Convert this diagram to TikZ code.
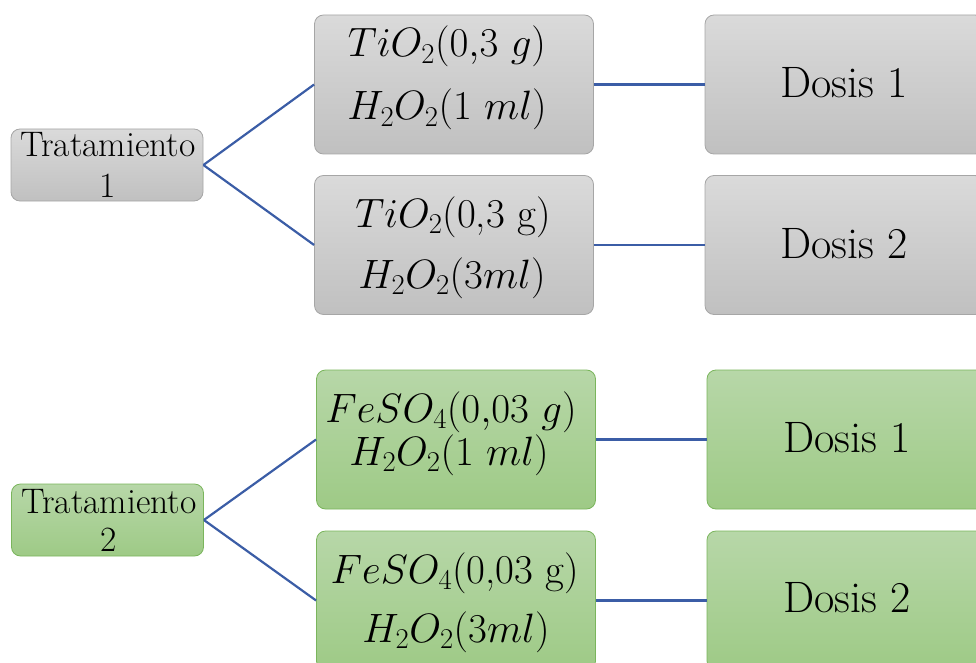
\RequirePackage{fix-cm}
\documentclass[tikz,border=0pt]{standalone}
\usepackage[no-math]{fontspec}
\setmainfont{Latin Modern Roman}
\definecolor{lnblue}{RGB}{59,93,166}
\definecolor{gtop}{RGB}{218,218,218}
\definecolor{gbot}{RGB}{192,192,192}
\definecolor{gbrd}{RGB}{166,166,166}
\definecolor{ntop}{RGB}{183,215,168}
\definecolor{nbot}{RGB}{158,202,134}
\definecolor{nbrd}{RGB}{122,181,92}
\tikzset{
  box/.style={rectangle, rounded corners=9pt, line width=0.8pt, inner sep=0pt},
  graybox/.style={box, draw=gbrd, top color=gtop, bottom color=gbot},
  greenbox/.style={box, draw=nbrd, top color=ntop, bottom color=nbot},
  trat/.style={minimum width=192pt, minimum height=72pt},
  mid/.style={minimum width=279pt, minimum height=139pt},
  dos/.style={minimum width=279pt, minimum height=139pt},
  lbl/.style={anchor=base, inner sep=0pt},
  trattxt/.style={lbl, font=\fontsize{35.5}{40}\selectfont},
  midtxt/.style={lbl, font=\fontsize{41}{46}\selectfont},
  dostxt/.style={lbl, font=\fontsize{44}{50}\selectfont},
  conn/.style={draw=lnblue, line width=2.2pt}
}
\begin{document}
\begin{tikzpicture}[x=1pt,y=-1pt]
\useasboundingbox (0,0) rectangle (976,663);
\clip (0,0) rectangle (976,663);
% Treatment 1
\node[graybox, trat] (t1) at (107,165) {};
\node[trattxt] (t1a) at (108,157) {Tratamiento};
\node[trattxt] (t1b) at (108,197) {1};
\node[graybox, mid] (a1) at (454,84.5) {};
\node[midtxt] (a1a) at (447,57) {$TiO_2({0{,}3}\ g)$};
\node[midtxt] (a1b) at (447,120) {$H_2O_2(1\ ml)$};
\node[graybox, mid] (a2) at (454,245) {};
\node[midtxt] (a2a) at (453,227) {$TiO_2$(0,3 g)};
\node[midtxt] (a2b) at (452,288) {$H_2O_2(3ml)$};
\node[graybox, dos] (d1) at (844.5,84.5) {};
\node[dostxt] (d1t) at (844,98) {Dosis 1};
\node[graybox, dos] (d2) at (844.5,245) {};
\node[dostxt] (d2t) at (844,258) {Dosis 2};
% Treatment 2
\node[greenbox, trat] (t2) at (107.5,520) {};
\node[trattxt] (t2a) at (109,513) {Tratamiento};
\node[trattxt] (t2b) at (109,551) {2};
\node[greenbox, mid] (b1) at (456,439.5) {};
\node[midtxt] (b1a) at (451,422) {$FeSO_4({0{,}03}\ g)$};
\node[midtxt] (b1b) at (449,465) {$H_2O_2(1\ ml)$};
\node[greenbox, mid] (b2) at (456,600.5) {};
\node[midtxt] (b2a) at (455,583) {$FeSO_4$(0,03 g)};
\node[midtxt] (b2b) at (456,642) {$H_2O_2(3ml)$};
\node[greenbox, dos] (e1) at (846.5,439.5) {};
\node[dostxt] (e1t) at (847,452) {Dosis 1};
\node[greenbox, dos] (e2) at (846.5,600.5) {};
\node[dostxt] (e2t) at (847,612) {Dosis 2};
% connectors
\draw[conn] (t1.east) -- (a1.west);
\draw[conn] (t1.east) -- (a2.west);
\draw[conn] (a1.east) -- (d1.west);
\draw[conn] (a2.east) -- (d2.west);
\draw[conn] (t2.east) -- (b1.west);
\draw[conn] (t2.east) -- (b2.west);
\draw[conn] (b1.east) -- (e1.west);
\draw[conn] (b2.east) -- (e2.west);
\end{tikzpicture}
\end{document}
